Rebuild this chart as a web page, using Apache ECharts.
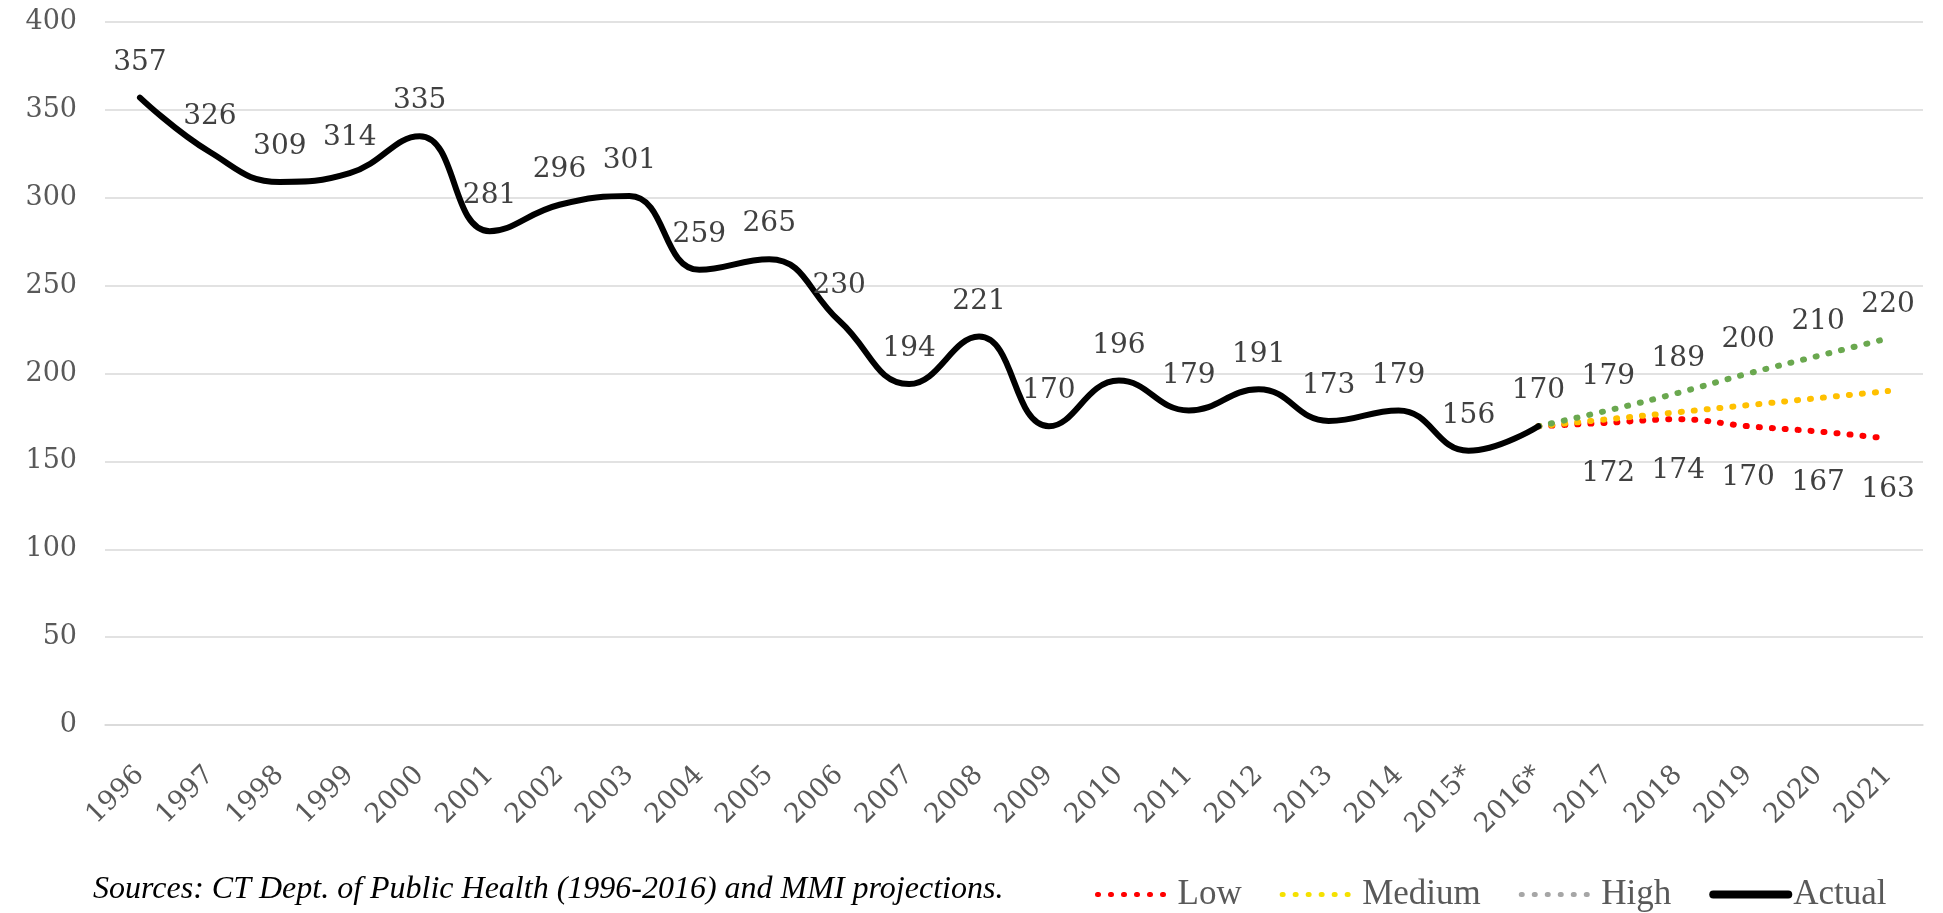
<!DOCTYPE html>
<html>
<head>
<meta charset="utf-8">
<script src="https://cdn.jsdelivr.net/npm/echarts@6/dist/echarts.min.js"></script>
<style>html,body{margin:0;padding:0;background:#fff}#c{width:1943px;height:913px}</style>
</head>
<body>
<div id="c"></div>
<script>
const years = ['1996','1997','1998','1999','2000','2001','2002','2003','2004','2005','2006','2007','2008','2009','2010','2011','2012','2013','2014','2015*','2016*','2017','2018','2019','2020','2021'];
const actual = [357,326,309,314,335,281,296,301,259,265,230,194,221,170,196,179,191,173,179,156,170,null,null,null,null,null];
const pad = Array(20).fill(null);
const low = pad.concat([170,172,174,170,167,163]);
const medium = pad.concat([170,174,178,182,186,190]);
const high = pad.concat([170,179,189,200,210,220]);
const yTicks = {min:0, max:400, interval:50};

const numFont = 'DejaVu Serif';
const txtFont = 'Liberation Serif';
const chart = echarts.init(document.getElementById('c'));
const projLabel = (pos, dist) => ({
  show: true, position: pos, distance: dist, color: '#404040', fontFamily: numFont, fontSize: 28,
  formatter: p => (p.dataIndex > 20 ? String(p.value) : '')
});
const dotted = (color) => ({color: color, width: 6, type: [1, 12], cap: 'round'});
const legDotted = (color) => ({color: color, width: 5, type: [1, 12], cap: 'round'});
chart.setOption({
  animation: false,
  grid: {left: 105, right: 20, top: 22, bottom: 188, containLabel: false},
  legend: {
    left: 1090, top: 872, itemWidth: 75, itemHeight: 20, itemGap: 38,
    itemStyle: {opacity: 0},
    textStyle: {fontFamily: txtFont, fontSize: 35, color: '#595959'},
    data: [
      {name: 'Low', lineStyle: legDotted('#FF0000')},
      {name: 'Medium', lineStyle: legDotted('#F5E100')},
      {name: 'High', lineStyle: legDotted('#A6A6A6')},
      {name: 'Actual', lineStyle: {color: '#000', width: 8, type: 'solid', cap: 'round'}}
    ]
  },
  xAxis: {
    type: 'category', data: years, boundaryGap: true,
    axisLine: {show: true, lineStyle: {color: '#D9D9D9', width: 1.5}},
    axisTick: {show: false},
    axisLabel: {rotate: 45, margin: 46, interval: 0, color: '#595959', fontFamily: numFont, fontSize: 27}
  },
  yAxis: {
    type: 'value', min: yTicks.min, max: yTicks.max, interval: yTicks.interval,
    axisLine: {show: false}, axisTick: {show: false},
    splitLine: {lineStyle: {color: '#D9D9D9', width: 1.5}},
    axisLabel: {margin: 28, color: '#595959', fontFamily: numFont, fontSize: 27}
  },
  graphic: [{
    type: 'text', left: 93, top: 874,
    style: {text: 'Sources: CT Dept. of Public Health (1996-2016) and MMI projections.', fontFamily: txtFont, fontStyle: 'italic', fontSize: 32, fill: '#000'}
  }],
  series: [
    {name: 'Low', type: 'line', data: low, smooth: 0.4, symbol: 'circle', symbolSize: 0.1, showSymbol: true,
     lineStyle: dotted('#FF0000'), itemStyle: {color: '#FF0000'}, label: projLabel('bottom', 37), z: 3},
    {name: 'Medium', type: 'line', data: medium, smooth: 0.4, symbol: 'circle', symbolSize: 0.1, showSymbol: true,
     lineStyle: dotted('#FFC000'), itemStyle: {color: '#FFC000'}, label: {show: false}, z: 3},
    {name: 'High', type: 'line', data: high, smooth: 0.4, symbol: 'circle', symbolSize: 0.1, showSymbol: true,
     lineStyle: dotted('#6AA84F'), itemStyle: {color: '#6AA84F'}, label: projLabel('top', 20), z: 3},
    {name: 'Actual', type: 'line', data: actual, smooth: 0.45, symbol: 'circle', symbolSize: 0.1, showSymbol: true, connectNulls: false,
     lineStyle: {color: '#000', width: 6, cap: 'round'}, itemStyle: {color: '#000'},
     label: {show: true, position: 'top', distance: 21, color: '#404040', fontFamily: numFont, fontSize: 28}, z: 4}
  ]
});
</script>
</body>
</html>
